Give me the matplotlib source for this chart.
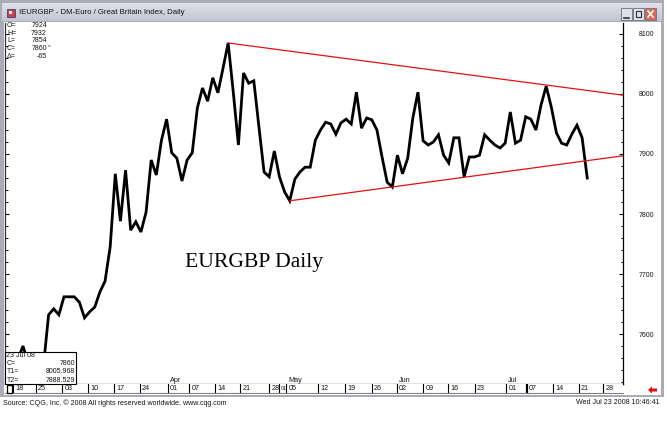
import numpy as np
import matplotlib
matplotlib.use("Agg")
import matplotlib.pyplot as plt
from matplotlib.patches import Rectangle, Polygon
from matplotlib.ticker import MultipleLocator, FixedLocator
import matplotlib.transforms as mtrans

# ---------------- data ----------------
close_values = [
    7540, 7557, 7580, 7553, 7543, 7537, 7547, 7632, 7642, 7632,
    7662, 7662, 7662, 7653, 7627, 7637, 7645, 7670, 7688, 7745,
    7867, 7788, 7873, 7773, 7787, 7770, 7803, 7890, 7865, 7923,
    7958, 7902, 7893, 7855, 7890, 7902, 7977, 8010, 7988, 8027,
    8002, 8043, 8085, 8003, 7915, 8035, 8018, 8022, 7945, 7870,
    7862, 7905, 7862, 7837, 7822, 7858, 7870, 7878, 7878, 7923,
    7940, 7953, 7950, 7933, 7952, 7958, 7950, 8003, 7943, 7960,
    7957, 7940, 7895, 7853, 7845, 7898, 7867, 7893, 7960, 8003,
    7922, 7915, 7920, 7932, 7898, 7885, 7927, 7927, 7862, 7895,
    7895, 7898, 7932, 7923, 7915, 7910, 7918, 7970, 7918, 7923,
    7962, 7958, 7940, 7982, 8013, 7978, 7935, 7918, 7915, 7933,
    7948, 7927, 7860,
]
day_index = list(range(len(close_values)))

t1_idx = [42, 119]
t1_val = [8085, 7998]
t2_idx = [54, 119]
t2_val = [7822, 7897]

price_ticks = [7600, 7700, 7800, 7900, 8000, 8100]
date_tick_pos = [0, 4.5, 9.7, 14.7, 19.8, 24.8, 30.2, 34.4, 39.4, 44.4,
                 50.0, 52.0, 53.3, 59.6, 64.8, 70.0, 74.9, 80.0, 84.9, 90.1,
                 96.2, 100.2, 105.3, 110.3, 115.1]
date_tick_labels = ['18', '25', '03', '10', '17', '24', '01', '07', '14', '21',
                    '28', '01', '05', '12', '19', '26', '02', '09', '16', '23',
                    '01', '07', '14', '21', '28']
month_labels = ['Apr', 'May', 'Jun', 'Jul']
month_pos = [30.2, 53.3, 74.9, 96.2]

title_text = "IEURGBP - DM-Euro / Great Britain Index, Daily"
ohlc_names = ['O=', 'H=', 'L=', 'C=', '\u0394=']
ohlc_vals = ['7924', '7932', '7854', '7860^', '-65']
cursor_names = ['C=', 'T1=', 'T2=']
cursor_vals = ['7860', '8005.968', '7888.529']

# ---------------- figure ----------------
W, H = 667, 421
fig = plt.figure(figsize=(W / 100, H / 100), dpi=100)
fig.patch.set_facecolor('white')
SANS = ['Liberation Sans', 'DejaVu Sans']
TXT = '#151515'

def fr(x0, y0, x1, y1):
    return [x0 / W, 1 - y1 / H, (x1 - x0) / W, (y1 - y0) / H]

# window frame (pixel coordinates)
bg = fig.add_axes([0, 0, 1, 1])
bg.set_xlim(0, W); bg.set_ylim(H, 0); bg.axis('off')
bg.add_patch(Rectangle((0, 0), 664, 397, facecolor='#a9abb6', edgecolor='none'))
grad = np.linspace(0, 1, 32).reshape(-1, 1)
c_top = np.array([0.88, 0.88, 0.91]); c_bot = np.array([0.76, 0.77, 0.83])
img = c_top + (c_bot - c_top) * grad[..., None]
img = np.repeat(img, 4, axis=1)
bg.imshow(img, extent=[2, 662, 21, 3], aspect='auto', zorder=1)
bg.add_patch(Rectangle((4, 22), 657, 373, facecolor='white', edgecolor='none', zorder=2))
# title icon
bg.add_patch(Rectangle((7, 9), 8, 8, facecolor='#d04040', edgecolor='#404080', lw=0.6, zorder=3))
bg.add_patch(Rectangle((9, 11), 3, 3, facecolor='#f0f0f0', edgecolor='none', zorder=4))
bg.text(19, 13, title_text, fontsize=5.6, family=SANS, va='center', ha='left', zorder=5, color=TXT)
# window buttons
for bx, fc in [(621, '#dfe0e8'), (633, '#dfe0e8'), (645, '#d86a5a')]:
    bg.add_patch(Rectangle((bx, 8), 11, 12, facecolor=fc, edgecolor='#6e7080', lw=0.6, zorder=3))
bg.plot([624, 629], [17.5, 17.5], color='#303030', lw=1.2, zorder=4)
bg.add_patch(Rectangle((636, 11), 5, 6, facecolor='none', edgecolor='#303030', lw=0.8, zorder=4))
bg.plot([648, 653], [11, 17], color='white', lw=1.1, zorder=4)
bg.plot([648, 653], [17, 11], color='white', lw=1.1, zorder=4)
# footer texts
bg.text(3, 403, "Source: CQG, Inc. \u00a9 2008 All rights reserved worldwide. www.cqg.com",
        fontsize=5.1, family=SANS, va='center', ha='left', color=TXT)
bg.text(660, 403, "Wed Jul 23 2008 10:46:41", fontsize=5.1, family=SANS,
        va='center', ha='right', color=TXT)
# red arrow
bg.add_patch(Polygon([[648, 390], [652, 386.5], [652, 388.5], [657, 388.5],
                      [657, 391.5], [652, 391.5], [652, 393.5]],
                     closed=True, facecolor='#e01010', edgecolor='none', zorder=5))

# ---------------- main chart ----------------
ax = fig.add_axes(fr(5, 23, 623, 384))
ax.set_facecolor('white')
ax.set_xlim(-1.5, 118.97)
ax.set_ylim(7516.7, 8118.3)
ax.plot(day_index, close_values, color='black', lw=2.0, solid_joinstyle='miter', zorder=3)
ax.plot(t1_idx, t1_val, color='#e01010', lw=0.9, zorder=4)
ax.plot(t2_idx, t2_val, color='#e01010', lw=0.9, zorder=4)

ax.spines['top'].set_visible(False)
ax.spines['right'].set_color('black'); ax.spines['right'].set_linewidth(0.9)
ax.spines['bottom'].set_color('black'); ax.spines['bottom'].set_linewidth(0.9)
ax.spines['left'].set_color('#303030'); ax.spines['left'].set_linewidth(0.9)

ax.yaxis.set_major_locator(FixedLocator(price_ticks))
ax.yaxis.set_minor_locator(MultipleLocator(20))
ax.set_yticklabels([str(v) for v in price_ticks])
ax.tick_params(axis='y', which='both', direction='in', left=True, right=True,
               labelleft=False, labelright=True, color='black')
ax.tick_params(axis='y', which='major', length=3, width=0.8, pad=11.5,
               labelsize=5.0, labelcolor=TXT)
ax.tick_params(axis='y', which='minor', length=1.8, width=0.7)
for lab in ax.get_yticklabels():
    lab.set_family(SANS)
ax.set_xticks([])

# month labels
tr_m = mtrans.offset_copy(mtrans.blended_transform_factory(ax.transData, ax.transAxes),
                          fig=fig, x=2, y=2, units='dots')
for p, m in zip(month_pos, month_labels):
    ax.text(p, 0, m, transform=tr_m, fontsize=5.2, family=SANS, ha='left',
            va='baseline', color=TXT)

# ---------------- date row ----------------
axd = fig.add_axes(fr(5, 384, 623, 393))
axd.set_xlim(ax.get_xlim()); axd.set_ylim(0, 1)
axd.set_xticks([]); axd.set_yticks([])
for s in ['left', 'right', 'top']:
    axd.spines[s].set_visible(False)
axd.spines['bottom'].set_color('#808080'); axd.spines['bottom'].set_linewidth(0.8)
base_d = mtrans.blended_transform_factory(axd.transData, axd.transAxes)
tr_d = mtrans.offset_copy(base_d, fig=fig, x=2.2, y=0, units='dots')
tr_d_tight = mtrans.offset_copy(base_d, fig=fig, x=1.3, y=0, units='dots')
for k, (p, lab) in enumerate(zip(date_tick_pos, date_tick_labels)):
    lw = 1.6 if (lab == '07' and p > 96) else 0.8
    axd.axvline(p, 0, 1, color='black', lw=lw)
    # squeeze a label whose next tick is very close
    nxt = date_tick_pos[k + 1] if k + 1 < len(date_tick_pos) else None
    if nxt is not None and nxt - p < 2:
        axd.text(p, 0.45, lab, transform=tr_d_tight, fontsize=3.8, family=SANS,
                 ha='left', va='center', color=TXT)
    else:
        axd.text(p, 0.45, lab, transform=tr_d, fontsize=5.2, family=SANS,
                 ha='left', va='center', color=TXT)

# ---------------- overlay (boxes, text) ----------------
ov = fig.add_axes([0, 0, 1, 1])
ov.set_xlim(0, W); ov.set_ylim(H, 0); ov.axis('off'); ov.patch.set_alpha(0)
ov.text(185, 266.5, "EURGBP Daily", family=['Liberation Serif', 'DejaVu Serif'],
        fontsize=15.6, ha='left', va='baseline', color='black')
# top-left OHLC
for k, (n, v) in enumerate(zip(ohlc_names, ohlc_vals)):
    y = 25.5 + 7.7 * k
    ov.text(7, y, n, fontsize=5.0, family=SANS, va='center', ha='left', color=TXT)
    if v.endswith('^'):
        ov.text(47, y, v[:-1], fontsize=5.0, family=SANS, va='center', ha='right', color=TXT)
        ov.text(48, y - 1.5, '^', fontsize=4.0, family=SANS, va='center', ha='left', color=TXT)
    else:
        ov.text(47, y, v, fontsize=5.0, family=SANS, va='center', ha='right', color=TXT)
# bottom-left cursor box
ov.add_patch(Rectangle((5, 352), 71, 32, facecolor='white', edgecolor='black', lw=0.8, zorder=5))
ov.text(6.5, 355.5, "23 Jul 08", fontsize=5.0, family=SANS, va='center', ha='left',
        color=TXT, zorder=6)
for k, (n, v) in enumerate(zip(cursor_names, cursor_vals)):
    y = 363.5 + 8.3 * k
    ov.text(6.5, y, n, fontsize=5.0, family=SANS, va='center', ha='left', color=TXT, zorder=6)
    ov.text(75, y, v, fontsize=5.0, family=SANS, va='center', ha='right', color=TXT, zorder=6)
ov.add_patch(Rectangle((6.5, 384.5), 5, 8, facecolor='none', edgecolor='black', lw=0.9, zorder=6))

fig.savefig('out.png', dpi=100, facecolor='white')
